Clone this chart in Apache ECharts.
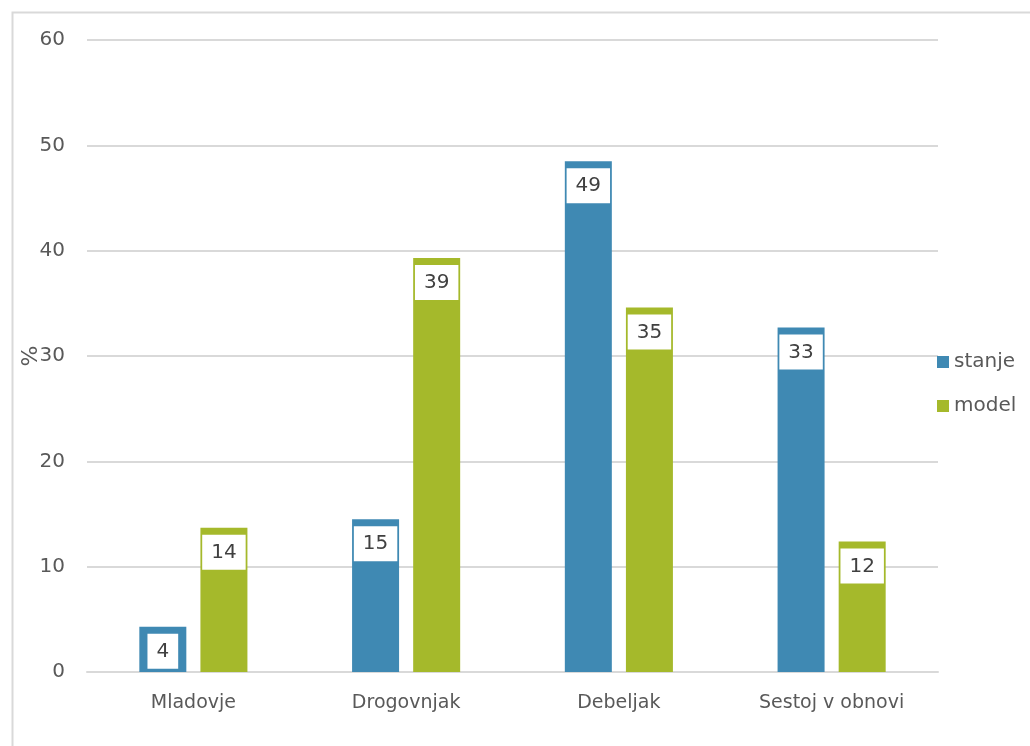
<!DOCTYPE html>
<html>
<head>
<meta charset="utf-8">
<script src="https://cdn.jsdelivr.net/npm/echarts@6/dist/echarts.min.js"></script>
<style>html,body{margin:0;padding:0;background:#fff}#c{width:1030px;height:746px}</style>
</head>
<body>
<div id="c"></div>
<script>
const categories = ['Mladovje', 'Drogovnjak', 'Debeljak', 'Sestoj v obnovi'];
const stanje = [4.3, 14.5, 48.5, 32.7];
const model = [13.7, 39.3, 34.6, 12.4];
const yTicks = [0, 10, 20, 30, 40, 50, 60];
const yName = '%';

const FONT = 'DejaVu Sans';
const chart = echarts.init(document.getElementById('c'));
const lbl = {
  show: true,
  position: 'insideTop',
  distance: 7,
  formatter: p => Math.round(p.value),
  backgroundColor: '#ffffff',
  padding: [8, 9, 7, 9],
  color: '#404040',
  fontSize: 20,
  fontFamily: FONT
};
chart.setOption({
  animation: false,
  graphic: [{
    type: 'rect', left: 10, top: 10,
    shape: { width: 1100, height: 1000 },
    style: { fill: 'none', stroke: '#d9d9d9', lineWidth: 2 }
  }, {
    type: 'text', x: 31, y: 356, rotation: Math.PI / 2,
    style: { text: yName, fill: '#595959', font: '22px "DejaVu Sans"', align: 'center', verticalAlign: 'middle' }
  }],
  grid: { left: 87, right: 92, top: 40, bottom: 74 },
  legend: {
    orient: 'vertical', left: 932, top: 347,
    itemWidth: 12, itemHeight: 12, itemGap: 24,
    icon: 'rect',
    textStyle: { color: '#595959', fontSize: 20, fontFamily: FONT },
    data: ['stanje', 'model']
  },
  xAxis: {
    type: 'category', data: categories,
    axisLine: { lineStyle: { color: '#d9d9d9', width: 2 } },
    axisTick: { show: false },
    axisLabel: { color: '#595959', fontSize: 19, fontFamily: FONT, margin: 22 }
  },
  yAxis: {
    type: 'value', min: yTicks[0], max: yTicks[yTicks.length - 1], interval: 10,
    axisLine: { show: false }, axisTick: { show: false },
    splitLine: { lineStyle: { color: '#d9d9d9', width: 2 } },
    axisLabel: { color: '#595959', fontSize: 20, fontFamily: FONT, margin: 22 }
  },
  series: [
    { name: 'stanje', type: 'bar', data: stanje, barWidth: 47, barGap: '30%',
      itemStyle: { color: '#3f89b3' }, label: lbl },
    { name: 'model', type: 'bar', data: model, barWidth: 47,
      itemStyle: { color: '#a5b92b' }, label: lbl }
  ]
});
</script>
</body>
</html>
